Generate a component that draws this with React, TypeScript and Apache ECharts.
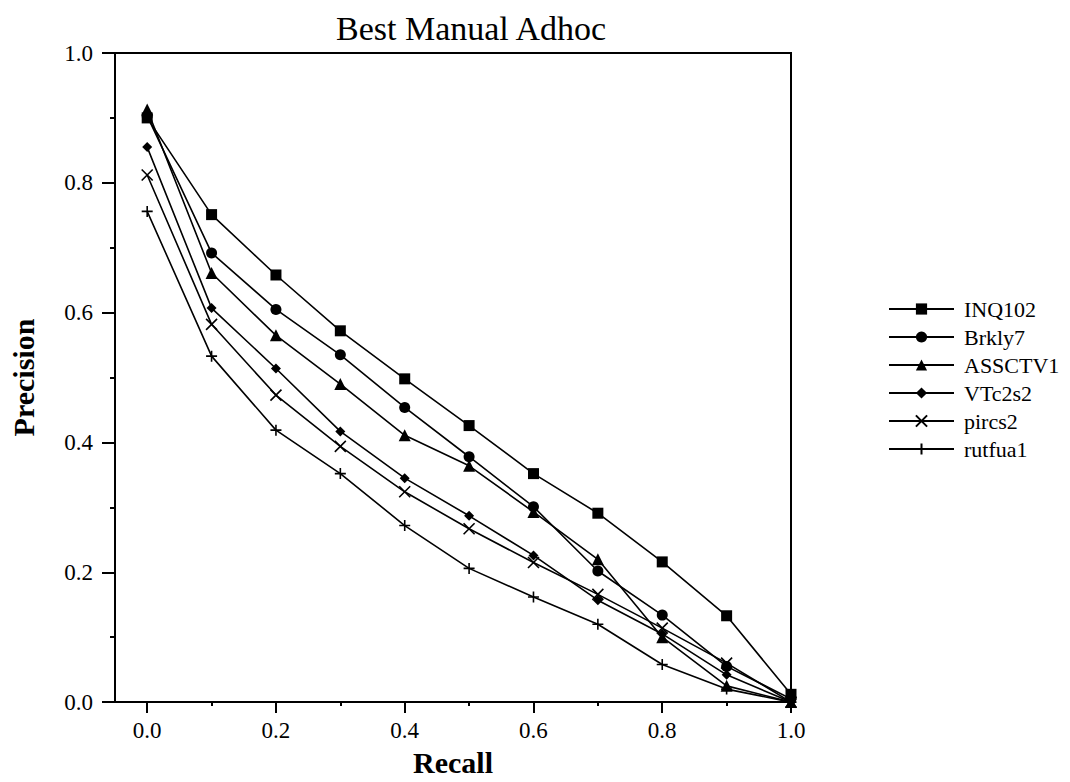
import React, { useEffect, useRef } from "react";
import * as echarts from "echarts";

const recall = [0, 0.1, 0.2, 0.3, 0.4, 0.5, 0.6, 0.7, 0.8, 0.9, 1.0];
const seriesNames = ["INQ102", "Brkly7", "ASSCTV1", "VTc2s2", "pircs2", "rutfua1"];
const inq102 = [0.900, 0.751, 0.658, 0.572, 0.498, 0.426, 0.352, 0.291, 0.216, 0.133, 0.012];
const brkly7 = [0.903, 0.692, 0.605, 0.535, 0.454, 0.378, 0.301, 0.202, 0.134, 0.055, 0.005];
const assctv1 = [0.913, 0.661, 0.565, 0.490, 0.411, 0.364, 0.293, 0.220, 0.100, 0.025, 0.000];
const vtc2s2 = [0.855, 0.607, 0.514, 0.417, 0.345, 0.287, 0.226, 0.157, 0.105, 0.042, 0.000];
const pircs2 = [0.812, 0.582, 0.473, 0.394, 0.324, 0.267, 0.215, 0.166, 0.114, 0.060, 0.000];
const rutfua1 = [0.756, 0.533, 0.419, 0.352, 0.272, 0.206, 0.162, 0.120, 0.058, 0.020, 0.000];
const xLabelValues = [0, 0.2, 0.4, 0.6, 0.8, 1.0];
const xMinorValues = [0.1, 0.3, 0.5, 0.7, 0.9];

const FONT = "Liberation Serif";

export default function App() {
  const ref = useRef<HTMLDivElement>(null);
  useEffect(() => {
    if (!ref.current) return;
    const chart = echarts.init(ref.current, null, { renderer: "svg" });
    const allData = [inq102, brkly7, assctv1, vtc2s2, pircs2, rutfua1];
    const symbols = [
      "rect",
      "circle",
      "triangle",
      "diamond",
      "path://M0,0L10,10M10,0L0,10",
      "path://M5,0L5,10M0,5L10,5",
    ];
    const sizes = [11, 11, 12, 10, 11, 11];
    const series = allData.map((d, i) => {
      const isPath = i >= 4;
      return {
        name: seriesNames[i],
        type: "line",
        xAxisIndex: 0,
        yAxisIndex: 0,
        data: recall.map((r, j) => [r, d[j]]),
        symbol: symbols[i],
        symbolSize: sizes[i],
        showSymbol: true,
        lineStyle: { color: "#000", width: 1.6 },
        itemStyle: isPath
          ? { color: "none", borderColor: "#000", borderWidth: 1.6 }
          : { color: "#000", borderWidth: 0 },
        emphasis: { disabled: true },
        z: 10 - i,
      };
    });
    chart.setOption({
      animation: false,
      title: {
        text: "Best Manual Adhoc",
        left: 466,
        textAlign: "center",
        top: 6,
        textStyle: { fontFamily: FONT, fontSize: 34, fontWeight: "normal", color: "#000" },
      },
      legend: {
        orient: "vertical",
        left: 888,
        top: 295,
        padding: 0,
        itemWidth: 65,
        itemHeight: 14,
        itemGap: 0,
        data: seriesNames,
        textStyle: { fontFamily: FONT, fontSize: 22, lineHeight: 28, color: "#000", padding: [0, 0, 0, 5] },
      },
      grid: {
        left: 112,
        right: 279,
        top: 53,
        bottom: 78,
        show: true,
        borderColor: "#000",
        borderWidth: 2,
      },
      xAxis: [
        {
          type: "value",
          min: -0.05,
          max: 1.0,
          name: "Recall",
          nameLocation: "middle",
          nameGap: 44,
          nameTextStyle: { fontFamily: FONT, fontSize: 30, fontWeight: "bold", color: "#000" },
          axisLine: { show: true, onZero: false, lineStyle: { color: "#000", width: 2 } },
          axisTick: {
            show: true,
            customValues: xLabelValues,
            length: 11,
            inside: false,
            lineStyle: { color: "#000", width: 2 },
          },
          axisLabel: {
            customValues: xLabelValues,
            formatter: (v: number) => v.toFixed(1),
            fontFamily: FONT,
            fontSize: 23,
            color: "#000",
            margin: 17,
          },
          splitLine: { show: false },
        },
        {
          type: "value",
          min: -0.05,
          max: 1.0,
          position: "bottom",
          axisLine: { show: false, onZero: false },
          axisTick: {
            show: true,
            customValues: xMinorValues,
            length: 4,
            inside: false,
            lineStyle: { color: "#000", width: 2 },
          },
          axisLabel: { show: false },
          splitLine: { show: false },
        },
      ],
      yAxis: {
        type: "value",
        min: 0,
        max: 1.0,
        interval: 0.2,
        name: "Precision",
        nameLocation: "middle",
        nameGap: 77,
        nameTextStyle: { fontFamily: FONT, fontSize: 30, fontWeight: "bold", color: "#000" },
        axisLine: { show: true, onZero: false, lineStyle: { color: "#000", width: 2 } },
        axisTick: { show: true, length: 13, inside: false, lineStyle: { color: "#000", width: 2 } },
        minorTick: { show: true, splitNumber: 2, length: 5, lineStyle: { color: "#000", width: 2 } },
        axisLabel: {
          formatter: (v: number) => v.toFixed(1),
          fontFamily: FONT,
          fontSize: 23,
          color: "#000",
          margin: 22,
        },
        splitLine: { show: false },
        minorSplitLine: { show: false },
      },
      series,
    });
    return () => chart.dispose();
  }, []);
  return (
    <div
      ref={ref}
      style={{ position: "fixed", left: 0, top: 0, width: 1070, height: 782, background: "#fff" }}
    />
  );
}
